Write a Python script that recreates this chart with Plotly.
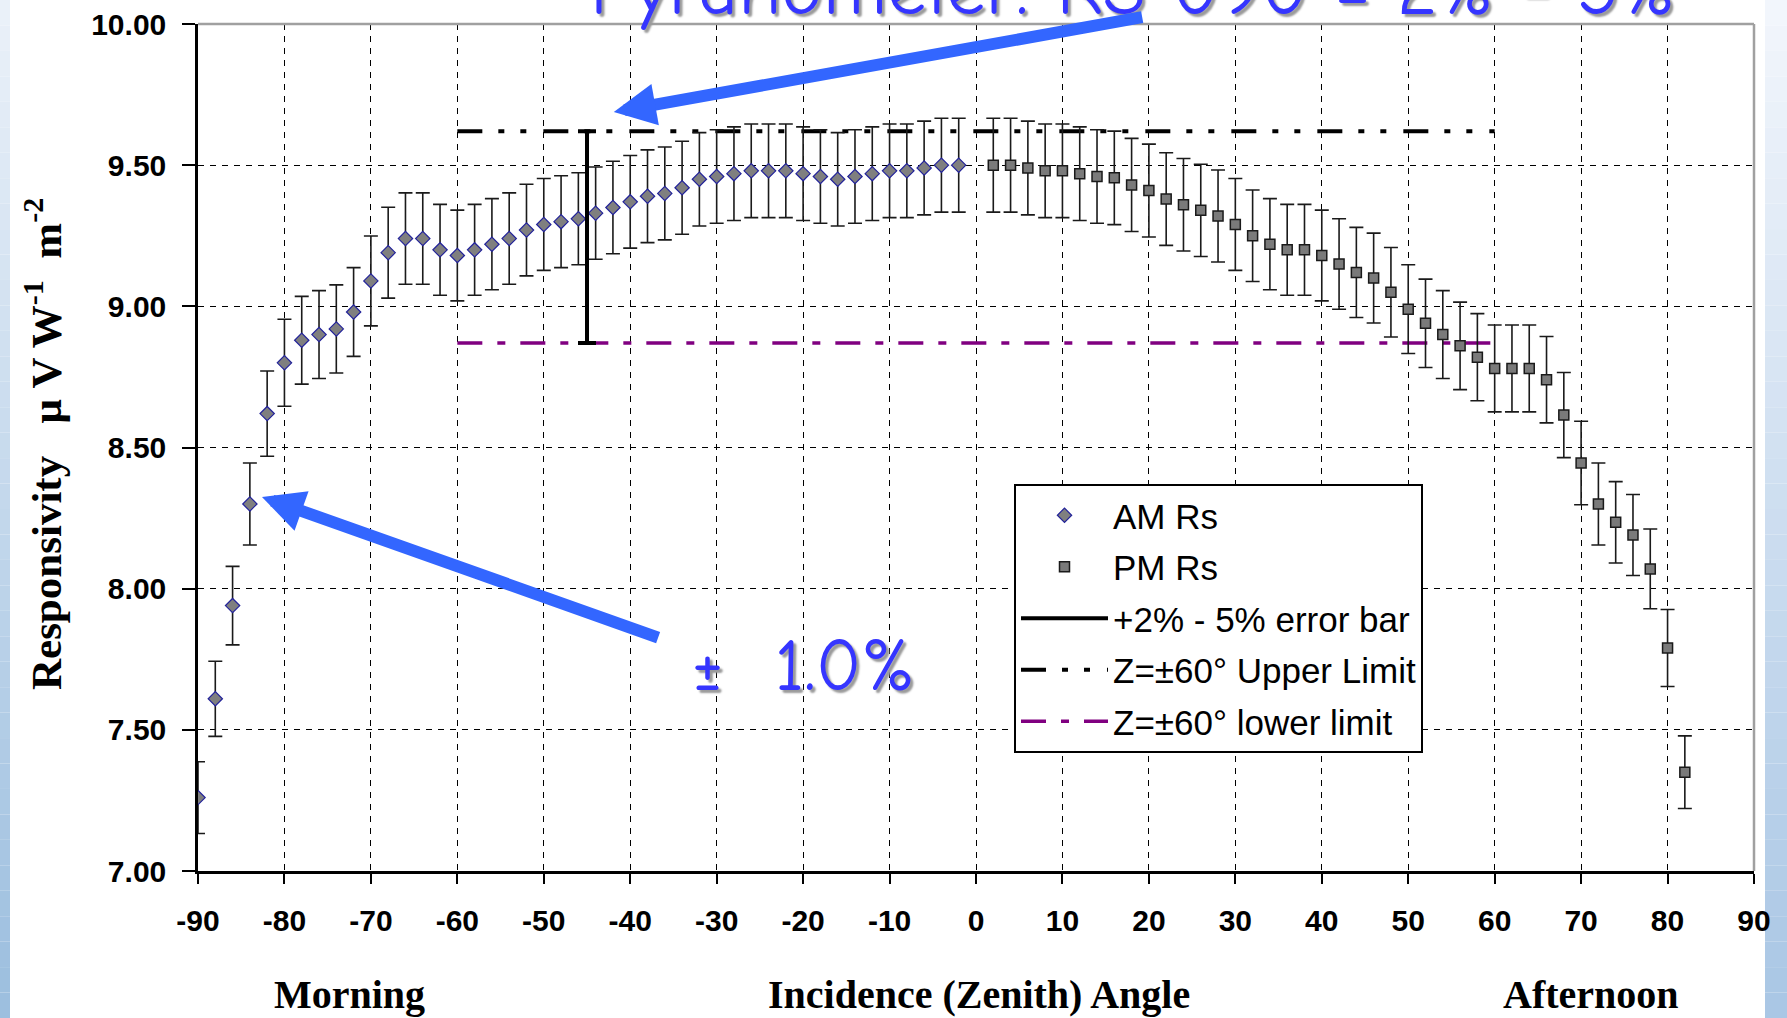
import plotly.graph_objects as go

# ---------------- data ----------------
am_angle = [-90, -88, -86, -84, -82, -80, -78, -76, -74, -72, -70, -68, -66, -64, -62,
            -60, -58, -56, -54, -52, -50, -48, -46, -44, -42, -40, -38, -36, -34, -32,
            -30, -28, -26, -24, -22, -20, -18, -16, -14, -12, -10, -8, -6, -4, -2]
am_rs = [7.26, 7.61, 7.94, 8.30, 8.62, 8.80, 8.88, 8.90, 8.92, 8.98, 9.09, 9.19, 9.24, 9.24, 9.20,
         9.18, 9.20, 9.22, 9.24, 9.27, 9.29, 9.30, 9.31, 9.33, 9.35, 9.37, 9.39, 9.40, 9.42, 9.45,
         9.46, 9.47, 9.48, 9.48, 9.48, 9.47, 9.46, 9.45, 9.46, 9.47, 9.48, 9.48, 9.49, 9.50, 9.50]

pm_angle = [2, 4, 6, 8, 10, 12, 14, 16, 18, 20, 22, 24, 26, 28, 30, 32, 34, 36, 38, 40,
            42, 44, 46, 48, 50, 52, 54, 56, 58, 60, 62, 64, 66, 68, 70, 72, 74, 76, 78, 80, 82]
pm_rs = [9.50, 9.50, 9.49, 9.48, 9.48, 9.47, 9.46, 9.455, 9.43, 9.41, 9.38, 9.36, 9.34, 9.32, 9.29,
         9.25, 9.22, 9.20, 9.20, 9.18, 9.15, 9.12, 9.10, 9.05, 8.99, 8.94, 8.90, 8.86, 8.82, 8.78,
         8.78, 8.78, 8.74, 8.615, 8.445, 8.30, 8.235, 8.19, 8.07, 7.79, 7.35]

err_pct = 1.75                # error bar size, % of value

limit_angle = [-60, 60]
upper_limit = [9.62, 9.62]
lower_limit = [8.87, 8.87]

bar_angle = [-45, -45]
bar_range = [8.87, 9.62]

x_ticks = list(range(-90, 91, 10))
y_ticks = [7.0, 7.5, 8.0, 8.5, 9.0, 9.5, 10.0]

# ---------------- figure ----------------
W, H = 1787, 1018
L, R, T, B = 198, 33, 24, 147
pw, ph = W - L - R, H - T - B


def px_x(p):
    return (p - L) / pw


def px_y(p):
    return (H - B - p) / ph


fig = go.Figure()

fig.add_trace(go.Scatter(
    x=limit_angle, y=upper_limit, mode='lines', name='Z=±60° Upper Limit', legendgroup='d', legendrank=4,
    line=dict(color='black', width=4, dash='25px,16px,6px,16px,6px,17px'),
))
fig.add_trace(go.Scatter(
    x=limit_angle, y=lower_limit, mode='lines', name='Z=±60° lower limit', legendgroup='e', legendrank=5,
    line=dict(color='#800080', width=3.5, dash='25px,15px,8px,15px'),
))
fig.add_trace(go.Scatter(
    x=am_angle, y=am_rs, mode='markers', name='AM Rs', legendgroup='a', legendrank=1,
    marker=dict(symbol='diamond', size=11, color='#7f7f7f', line=dict(color='#22229a', width=1.2)),
    error_y=dict(type='percent', value=err_pct, color='#1a1a1a', thickness=1.6, width=7),
))
fig.add_trace(go.Scatter(
    x=pm_angle, y=pm_rs, mode='markers', name='PM Rs', legendgroup='b', legendrank=2,
    marker=dict(symbol='square', size=10, color='#7a7a7a', line=dict(color='#1a1a1a', width=1.5)),
    error_y=dict(type='percent', value=err_pct, color='#1a1a1a', thickness=1.6, width=7),
))
fig.add_trace(go.Scatter(
    x=bar_angle, y=bar_range, mode='lines', name='+2% - 5% error bar', legendgroup='c', legendrank=3,
    line=dict(color='black', width=4),
    error_y=dict(type='constant', value=0, color='black', thickness=4, width=9),
))

shapes = []
# light blue slide edges (gradient imitation)
n = 40
for i in range(n):
    t = i / (n - 1)

    def mix(c1, c2):
        return '#%02x%02x%02x' % tuple(int(c1[k] + (c2[k] - c1[k]) * t) for k in range(3))
    y0 = px_y(i * H / n)
    y1 = px_y((i + 1) * H / n)
    shapes.append(dict(type='rect', xref='paper', yref='paper', x0=px_x(0), x1=px_x(10),
                       y0=y0, y1=y1, fillcolor=mix((234, 241, 249), (157, 191, 223)),
                       line=dict(width=0), layer='below'))
    shapes.append(dict(type='rect', xref='paper', yref='paper', x0=px_x(1765), x1=px_x(W),
                       y0=y0, y1=y1, fillcolor=mix((242, 246, 252), (170, 199, 229)),
                       line=dict(width=0), layer='below'))
# gray top and right borders of the plot area
shapes.append(dict(type='line', xref='paper', yref='paper', x0=0, x1=1, y0=1, y1=1,
                   line=dict(color='#a0a0a0', width=2.5)))
shapes.append(dict(type='line', xref='paper', yref='paper', x0=1, x1=1, y0=0, y1=1,
                   line=dict(color='#a0a0a0', width=2.5)))

serif = 'Liberation Serif, Times New Roman, serif'
comic = 'Comic Sans MS, Comic Neue, Noto Sans, sans-serif'
blue_txt = '#3535ff'
arrow_c = '#3366ff'

annotations = [
    dict(text='Morning', xref='x', yref='paper', x=-72.5, y=0, yshift=-123, showarrow=False,
         font=dict(family=serif, size=40, color='black', weight='bold'), yanchor='middle'),
    dict(text='Incidence (Zenith) Angle', xref='x', yref='paper', x=0.3, y=0, yshift=-123,
         showarrow=False, font=dict(family=serif, size=40, color='black', weight='bold'),
         yanchor='middle'),
    dict(text='Afternoon', xref='x', yref='paper', x=71.1, y=0, yshift=-123, showarrow=False,
         font=dict(family=serif, size=40, color='black', weight='bold'), yanchor='middle'),
    dict(text='Responsivity&nbsp;&nbsp; μ V W<sup>-1</sup>&nbsp; m<sup>-2</sup>', xref='paper',
         yref='paper', x=0, xshift=-155, y=px_y(444), textangle=-90, showarrow=False,
         font=dict(family=serif, size=43, color='black', weight='bold'), xanchor='center',
         yanchor='middle'),
    dict(text='Pyranometer: RS 090 = 2% - 5%', xref='paper', yref='paper', x=px_x(1133),
         y=1, yshift=35, showarrow=False, yanchor='middle',
         font=dict(family=comic, size=78, color=blue_txt, shadow='3px 3px 2px #9a9a9a')),
    dict(text='±&nbsp;&nbsp;1.0%', xref='paper', yref='paper', x=px_x(803), y=px_y(665),
         showarrow=False, xanchor='center', yanchor='middle',
         font=dict(family=comic, size=75, color=blue_txt, shadow='3px 3px 2px #9a9a9a')),
    # blue arrows
    dict(text='', x=-41.9, y=9.688, ax=19.4, ay=10.025, xref='x', yref='y', axref='x', ayref='y',
         showarrow=True, arrowhead=2, arrowsize=0.7, arrowwidth=12, arrowcolor=arrow_c, standoff=0),
    dict(text='', x=-82.6, y=8.325, ax=-36.6, ay=7.825, xref='x', yref='y', axref='x', ayref='y',
         showarrow=True, arrowhead=2, arrowsize=0.7, arrowwidth=12, arrowcolor=arrow_c, standoff=0),
]

tickfont = dict(family='Liberation Sans, Arial, sans-serif', size=30, color='black', weight='bold')

fig.update_layout(
    width=W, height=H,
    margin=dict(l=L, r=R, t=T, b=B, pad=0, autoexpand=False),
    paper_bgcolor='white', plot_bgcolor='white',
    showlegend=True,
    legend=dict(x=px_x(1014), y=px_y(484), xanchor='left', yanchor='top',
                bgcolor='white', bordercolor='black', borderwidth=2,
                font=dict(family='Liberation Sans, Arial, sans-serif', size=35, color='black'),
                itemwidth=87, traceorder='grouped', tracegroupgap=3),
    xaxis=dict(range=[-90, 90], tickmode='array', tickvals=x_ticks, ticktext=[str(v) for v in x_ticks],
               showgrid=True, gridcolor='black', gridwidth=1.3, griddash='6px,6px',
               zeroline=False, showline=True, linecolor='black', linewidth=2.5,
               ticks='outside', ticklen=10, tickwidth=2, tickcolor='black', automargin=False,
               tickfont=tickfont, ticklabelstandoff=11),
    yaxis=dict(range=[7, 10], tickmode='array', tickvals=y_ticks,
               ticktext=['%.2f' % v for v in y_ticks],
               showgrid=True, gridcolor='black', gridwidth=1.3, griddash='6px,6px',
               zeroline=False, showline=True, linecolor='black', linewidth=2.5,
               ticks='outside', ticklen=13, tickwidth=2, tickcolor='black', automargin=False,
               tickfont=tickfont, ticklabelstandoff=10),
    shapes=shapes,
    annotations=annotations,
)

fig.write_html('out.html')
